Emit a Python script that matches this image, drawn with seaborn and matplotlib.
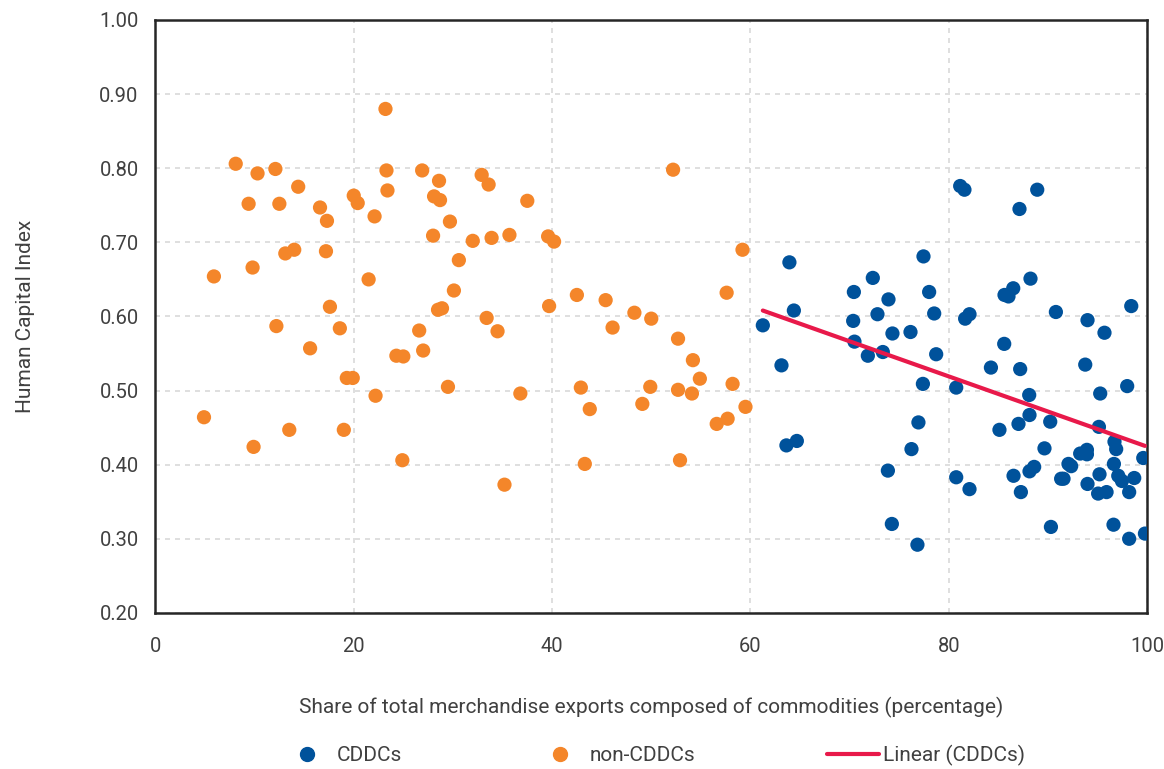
import pandas as pd
import matplotlib
matplotlib.use("Agg")
import matplotlib.pyplot as plt
from matplotlib.lines import Line2D
import seaborn as sns

# CDDCs (commodity-dependent developing countries)
cddc_x = [81.15, 81.58, 88.92, 87.13, 63.93, 77.45, 72.34, 70.43, 73.92, 78.02,
          88.24, 86.50, 85.62, 86.02, 64.38, 61.25, 70.36, 72.81, 74.32, 76.14,
          78.53, 81.65, 82.09, 90.80, 98.40, 93.99, 95.70, 70.49, 71.84, 73.35,
          78.73, 63.13, 85.59, 84.25, 87.20, 93.76, 77.39, 80.75, 88.11, 95.27,
          97.99, 76.94, 88.14, 87.03, 85.11, 90.23, 95.14, 63.63, 64.68, 76.24,
          89.65, 96.71, 96.88, 93.25, 93.93, 93.93, 92.07, 92.34, 96.65, 99.61,
          73.86, 80.75, 82.09, 86.53, 87.27, 88.14, 88.61, 91.33, 91.57, 93.99,
          95.20, 95.06, 95.91, 97.09, 97.46, 98.70, 98.19, 74.26, 76.84, 90.30,
          96.61, 98.19, 99.78]
cddc_y = [0.776, 0.771, 0.771, 0.745, 0.673, 0.681, 0.652, 0.633, 0.623, 0.633,
          0.651, 0.638, 0.629, 0.627, 0.608, 0.588, 0.594, 0.603, 0.577, 0.579,
          0.604, 0.597, 0.603, 0.606, 0.614, 0.595, 0.578, 0.566, 0.547, 0.552,
          0.549, 0.534, 0.563, 0.531, 0.529, 0.535, 0.509, 0.504, 0.494, 0.496,
          0.506, 0.457, 0.467, 0.455, 0.447, 0.458, 0.451, 0.426, 0.432, 0.421,
          0.422, 0.431, 0.421, 0.415, 0.420, 0.414, 0.401, 0.398, 0.401, 0.409,
          0.392, 0.383, 0.367, 0.385, 0.363, 0.391, 0.397, 0.381, 0.381, 0.374,
          0.387, 0.361, 0.363, 0.385, 0.378, 0.382, 0.363, 0.320, 0.292, 0.316,
          0.319, 0.300, 0.307]

# non-CDDCs
non_x = [4.9, 5.9, 8.1, 9.4, 9.8, 9.9, 10.3, 12.1, 12.2, 12.5,
         13.1, 13.5, 14.0, 14.4, 15.6, 16.6, 17.2, 17.3, 17.6, 18.6,
         19.0, 19.3, 19.9, 20.0, 20.4, 21.5, 22.1, 22.2, 23.2, 23.3,
         23.4, 24.3, 25.0, 24.9, 26.6, 26.9, 27.0, 28.0, 28.1, 28.5,
         28.6, 28.7, 28.9, 29.5, 29.7, 30.1, 30.6, 32.0, 32.9, 33.4,
         33.6, 33.9, 34.5, 35.2, 35.7, 36.8, 37.5, 39.6, 39.7, 40.2,
         42.5, 42.9, 43.3, 43.8, 45.4, 46.1, 48.3, 49.1, 50.0, 49.9,
         52.2, 52.7, 52.7, 52.9, 54.2, 54.1, 54.9, 56.6, 57.7, 57.6,
         58.2, 59.2, 59.5]
non_y = [0.464, 0.654, 0.806, 0.752, 0.666, 0.424, 0.793, 0.799, 0.587, 0.752,
         0.685, 0.447, 0.690, 0.775, 0.557, 0.747, 0.688, 0.729, 0.613, 0.584,
         0.447, 0.517, 0.517, 0.763, 0.753, 0.650, 0.735, 0.493, 0.880, 0.797,
         0.770, 0.547, 0.546, 0.406, 0.581, 0.797, 0.554, 0.709, 0.762, 0.609,
         0.783, 0.757, 0.611, 0.505, 0.728, 0.635, 0.676, 0.702, 0.791, 0.598,
         0.778, 0.706, 0.580, 0.373, 0.710, 0.496, 0.756, 0.708, 0.614, 0.701,
         0.629, 0.504, 0.401, 0.475, 0.622, 0.585, 0.605, 0.482, 0.597, 0.505,
         0.798, 0.570, 0.501, 0.406, 0.541, 0.496, 0.516, 0.455, 0.462, 0.632,
         0.509, 0.690, 0.478]

x_ticks = [0, 20, 40, 60, 80, 100]
y_ticks = [0.20, 0.30, 0.40, 0.50, 0.60, 0.70, 0.80, 0.90, 1.00]

blue = "#00529B"
orange = "#F4862A"
red = "#E8194A"

df = pd.concat([
    pd.DataFrame({"share": cddc_x, "hci": cddc_y, "group": "CDDCs"}),
    pd.DataFrame({"share": non_x, "hci": non_y, "group": "non-CDDCs"}),
])

sns.set_style("white")
plt.rcParams["font.family"] = ["Roboto", "DejaVu Sans"]
text_color = "#404040"

fig = plt.figure(figsize=(11.64, 7.69), dpi=100)
ax = fig.add_axes([0.1335, 0.203, 0.852, 0.771])

sns.scatterplot(data=df, x="share", y="hci", hue="group",
                palette={"CDDCs": blue, "non-CDDCs": orange},
                s=105, linewidth=0, alpha=1, legend=False, ax=ax, zorder=3)

# linear trend for CDDCs
sns.regplot(x=cddc_x, y=cddc_y, scatter=False, ci=None, truncate=True,
            line_kws={"color": red, "lw": 3, "zorder": 4}, ax=ax)

ax.set_xlim(0, 100)
ax.set_ylim(0.2, 1.0)
ax.set_xticks(x_ticks)
ax.set_yticks(y_ticks)
ax.set_yticklabels([f"{v:.2f}" for v in y_ticks])
ax.grid(True, color="#D9D9D9", linestyle=(0, (3, 3)), linewidth=1.2)
ax.set_axisbelow(True)
for sp in ax.spines.values():
    sp.set_color("#262626")
    sp.set_linewidth(1.8)
ax.tick_params(axis="both", length=0, labelsize=14.5, labelcolor=text_color)
ax.tick_params(axis="y", pad=12)
ax.tick_params(axis="x", pad=17)

ax.set_xlabel("Share of total merchandise exports composed of commodities (percentage)",
              fontsize=15, color=text_color, labelpad=30)
ax.set_ylabel("Human Capital Index", fontsize=15, color=text_color, labelpad=46)

handles = [
    Line2D([], [], marker="o", linestyle="none", markersize=10, color=blue),
    Line2D([], [], marker="o", linestyle="none", markersize=10, color=orange),
    Line2D([], [], color=red, lw=3),
]
fig.legend(handles, ["CDDCs", "non-CDDCs", "Linear (CDDCs)"], loc="center",
           bbox_to_anchor=(0.561, 0.018), ncol=3, frameon=False, fontsize=15,
           labelcolor=text_color, handlelength=2.5, handletextpad=0.2,
           columnspacing=6.3)

fig.savefig("out.png", dpi=100)
